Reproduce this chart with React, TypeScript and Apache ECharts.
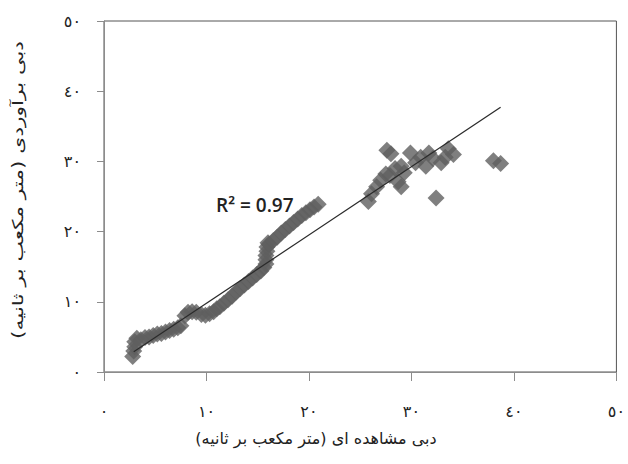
import React, { useEffect, useRef } from "react";
import * as echarts from "echarts";

// observed discharge (x) and estimated discharge (y)
const observed = [
  2.8, 2.9, 3.0, 3.0, 3.2,
  3.6, 4.0, 4.4, 4.8, 5.2, 5.6, 6.0, 6.4, 6.8, 7.2, 7.5,
  7.9, 8.2, 8.6, 9.0,
  9.5, 9.9, 10.3, 10.7, 11.0,
  11.3, 11.7, 12.1, 12.5, 12.9, 13.3, 13.7, 14.1, 14.5, 14.9, 15.3, 15.6,
  15.8, 15.8, 15.8, 15.9, 15.9, 16.0,
  16.1, 16.5, 16.9, 17.3, 17.7, 18.1, 18.5, 18.9, 19.3, 19.7, 20.1, 20.5, 20.9,
  25.8, 26.1, 26.6, 27.0, 27.5, 27.9, 27.6, 28.0, 28.4, 28.7, 29.0, 29.3, 29.0,
  29.9, 30.4, 30.9, 31.4, 31.7, 32.1, 32.9, 33.3, 33.6, 34.1, 32.4, 38.0, 38.7,
];
const estimated = [
  2.2, 3.0, 3.6, 4.3, 4.8,
  4.6, 4.9, 5.0, 5.2, 5.4, 5.5, 5.7, 5.9, 6.1, 6.3, 6.6,
  8.0, 8.5, 8.6, 8.5,
  8.2, 8.1, 8.3, 8.6, 9.0,
  9.3, 9.8, 10.3, 10.8, 11.4, 11.9, 12.4, 12.9, 13.4, 13.9, 14.4, 14.9,
  15.4, 16.0, 16.6, 17.2, 17.8, 18.4,
  18.2, 18.7, 19.2, 19.8, 20.3, 20.8, 21.3, 21.8, 22.3, 22.7, 23.1, 23.5, 23.9,
  24.3, 25.4, 26.4, 27.3, 28.2, 28.0, 31.6, 31.1, 29.0, 27.1, 26.4, 28.4, 29.3,
  31.2, 29.8, 30.6, 29.3, 31.2, 30.4, 29.8, 30.6, 31.8, 31.0, 24.8, 30.1, 29.7,
];

// regression line endpoints
const trendX = [2.9, 38.7];
const trendY = [2.9, 37.7];

const tickLabels = ["٠", "١٠", "٢٠", "٣٠", "٤٠", "٥٠"];
const xTitle = "دبی مشاهده ای (متر مکعب بر ثانیه)";
const yTitle = "دبی برآوردی (متر مکعب بر ثانیه)";
const r2Label = "R² = 0.97";

export default function App() {
  const ref = useRef<HTMLDivElement>(null);
  useEffect(() => {
    if (!ref.current) return;
    const chart = echarts.init(ref.current, undefined, { renderer: "svg" });
    const points = observed.map((x, i) => [x, estimated[i]]);
    const trend = trendX.map((x, i) => [x, trendY[i]]);
    const fmt = (v: number) => tickLabels[Math.round(v / 10)] ?? "";
    chart.setOption({
      animation: false,
      backgroundColor: "#ffffff",
      grid: {
        left: 104,
        right: 9,
        top: 21,
        bottom: 92,
        show: true,
        borderColor: "#555555",
        borderWidth: 1,
      },
      xAxis: {
        type: "value",
        min: 0,
        max: 50,
        interval: 10,
        axisLine: { show: true, lineStyle: { color: "#8c8c8c", width: 1 } },
        axisTick: { show: true, length: 9, lineStyle: { color: "#8c8c8c" } },
        splitLine: { show: false },
        axisLabel: {
          formatter: fmt,
          margin: 31,
          fontSize: 16,
          color: "#222222",
          fontFamily: "DejaVu Sans",
        },
      },
      yAxis: {
        type: "value",
        min: 0,
        max: 50,
        interval: 10,
        axisLine: { show: true, lineStyle: { color: "#8c8c8c", width: 1 } },
        axisTick: { show: true, length: 7, lineStyle: { color: "#8c8c8c" } },
        splitLine: { show: false },
        axisLabel: {
          formatter: fmt,
          margin: 23,
          fontSize: 16,
          color: "#222222",
          fontFamily: "DejaVu Sans",
        },
      },
      series: [
        {
          type: "scatter",
          data: points,
          symbol: "diamond",
          symbolSize: 17,
          itemStyle: { color: "#5f5f5f" },
          z: 2,
        },
        {
          type: "line",
          data: trend,
          symbol: "none",
          lineStyle: { color: "#2a2a2a", width: 1.2 },
          z: 3,
        },
      ],
      graphic: [
        {
          type: "text",
          x: 216,
          y: 205,
          style: {
            text: r2Label,
            font: "600 19px 'Open Sans'",
            fill: "#222222",
            textVerticalAlign: "middle",
          },
        },
        {
          type: "text",
          x: 316,
          y: 438,
          style: {
            text: xTitle,
            font: "16px 'DejaVu Sans'",
            fill: "#222222",
            textAlign: "center",
            textVerticalAlign: "middle",
          },
        },
        {
          type: "text",
          x: 18,
          y: 190,
          rotation: Math.PI / 2,
          scaleX: 1.45,
          style: {
            text: yTitle,
            font: "15px 'DejaVu Sans'",
            fill: "#222222",
            textAlign: "center",
            textVerticalAlign: "middle",
          },
        },
      ],
    });
    return () => chart.dispose();
  }, []);
  return (
    <div
      ref={ref}
      style={{ position: "fixed", left: 0, top: 0, width: 628, height: 464 }}
    />
  );
}
